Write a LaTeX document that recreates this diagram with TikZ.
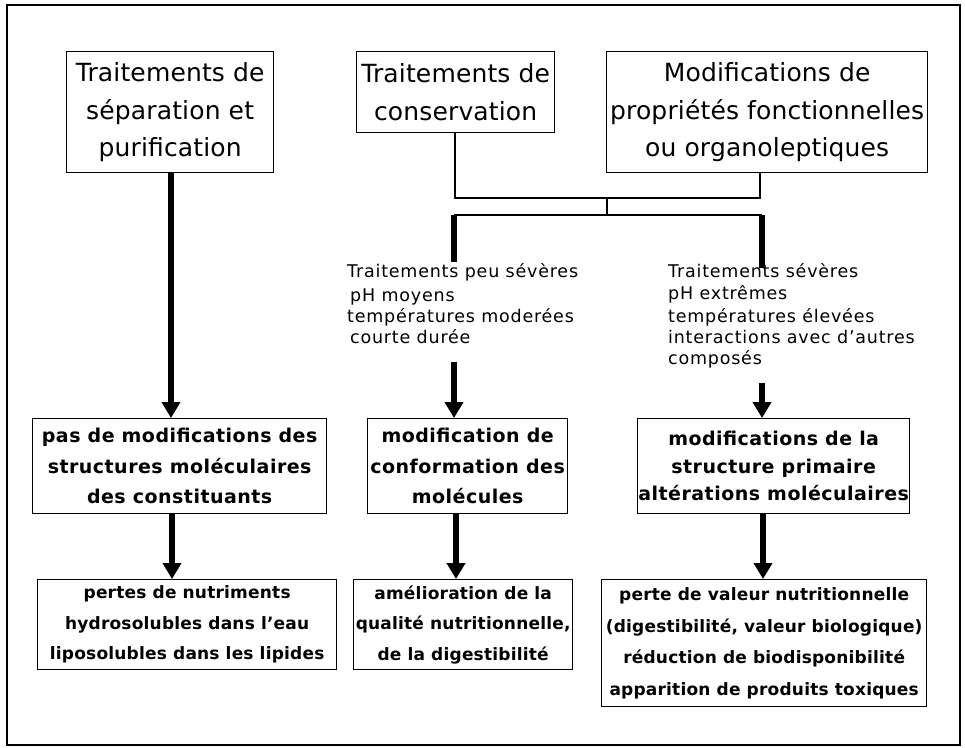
\documentclass[tikz,border=0pt]{standalone}
\usepackage{fontspec}
\setmainfont{DejaVu Sans}
\newfontfamily\lblfont[LetterSpace=4.5]{DejaVu Sans}
\newfontfamily\midfont[LetterSpace=2.5]{DejaVu Sans}
\newfontfamily\lowfont[LetterSpace=1.2]{DejaVu Sans}
\newfontfamily\hdfont[LetterSpace=0.6]{DejaVu Sans}
\usetikzlibrary{arrows.meta}
\tikzset{
  boxbase/.style={draw, line width=1.3pt, inner sep=0pt, align=center, anchor=north west},
  hbox/.style={boxbase, font=\hdfont\fontsize{25}{37.5}\selectfont},
  mbox/.style={boxbase, font=\midfont\bfseries\fontsize{19}{30.5}\selectfont},
  fbox/.style={boxbase, font=\lowfont\bfseries\fontsize{17}{30.5}\selectfont},
  ibox/.style={boxbase, font=\lowfont\bfseries\fontsize{17}{31.5}\selectfont},
  lbl/.style={inner sep=0pt, anchor=base west, font=\lblfont\fontsize{17.5}{21}\selectfont},
  thinline/.style={line width=1.2pt},
  thickline/.style={line width=5.5pt},
  bigarrow/.style={line width=5.5pt, -{Triangle[width=18pt,length=16pt]}},
}
\begin{document}
\begin{tikzpicture}[x=1pt,y=-1pt]
\useasboundingbox (0,0) rectangle (965,747);
\draw[line width=1.8pt] (7,5) rectangle (960,745);

% top boxes
\node[hbox, minimum width=207pt, minimum height=121pt] (A) at (66,51) {Traitements de\\séparation et\\purification};
\node[hbox, minimum width=198pt, minimum height=81pt] (B) at (356,51) {Traitements de\\conservation};
\node[hbox, minimum width=321pt, minimum height=121pt] (C) at (606,51) {Modifications de\\propriétés fonctionnelles\\ou organoleptiques};

% middle boxes
\node[mbox, minimum width=294pt, minimum height=95pt] (D) at (32,418) {pas de modifications des\\structures moléculaires\\des constituants};
\node[mbox, minimum width=200pt, minimum height=95pt] (E) at (367,418) {modification de\\conformation des\\molécules};
\node[mbox, minimum width=272pt, minimum height=95pt, font=\midfont\bfseries\fontsize{19}{27.5}\selectfont] (F) at (637,418) {modifications de la\\structure primaire\\altérations moléculaires};

% bottom boxes
\node[fbox, minimum width=299pt, minimum height=90pt] (G) at (37,579) {pertes de nutriments\\hydrosolubles dans l’eau\\liposolubles dans les lipides};
\node[fbox, minimum width=219pt, minimum height=90pt] (H) at (353,579) {amélioration de la\\qualité nutritionnelle,\\de la digestibilité};
\node[ibox, minimum width=325pt, minimum height=127pt] (I) at (601,579) {perte de valeur nutritionnelle\\(digestibilité, valeur biologique)\\réduction de biodisponibilité\\apparition de produits toxiques};

% labels
\node[lbl] (l1) at (347,277) {Traitements peu sévères};
\node[lbl] (l2) at (350,301) {pH moyens};
\node[lbl] (l3) at (347,322) {températures moderées};
\node[lbl] (l4) at (350,343) {courte durée};

\node[lbl] (r1) at (668,277) {Traitements sévères};
\node[lbl] (r2) at (668,299) {pH extrêmes};
\node[lbl] (r3) at (668,322) {températures élevées};
\node[lbl] (r4) at (668,343) {interactions avec d’autres};
\node[lbl] (r5) at (668,364) {composés};

% connector coordinates
\coordinate (j1) at (455,198);
\coordinate (j2) at (760,198);
\coordinate (jm) at (607,198);
\coordinate (k1) at (454,215);
\coordinate (k2) at (762,215);
\coordinate (k1e) at (454,262);
\coordinate (k2e) at (762,268);
\coordinate (m1) at (454,362);
\coordinate (q1) at (762,383);
\coordinate (ax) at (171,0);
\coordinate (dx) at (172,0);
\coordinate (ex) at (456,0);
\coordinate (fx) at (763,0);

\draw[thinline] (B.south -| j1) -- (j1) -- (j2) -- (C.south -| j2);
\draw[thinline] (jm) -- (jm |- k1);
\draw[thinline] (k1) -- (k2);
\draw[thickline] (k1) -- (k1e);
\draw[thickline] (k2) -- (k2e);

\draw[bigarrow] (A.south -| ax) -- (D.north -| ax);
\draw[bigarrow] (m1) -- (E.north -| m1);
\draw[bigarrow] (q1) -- (F.north -| q1);
\draw[bigarrow] (D.south -| dx) -- (G.north -| dx);
\draw[bigarrow] (E.south -| ex) -- (H.north -| ex);
\draw[bigarrow] (F.south -| fx) -- (I.north -| fx);
\end{tikzpicture}
\end{document}
